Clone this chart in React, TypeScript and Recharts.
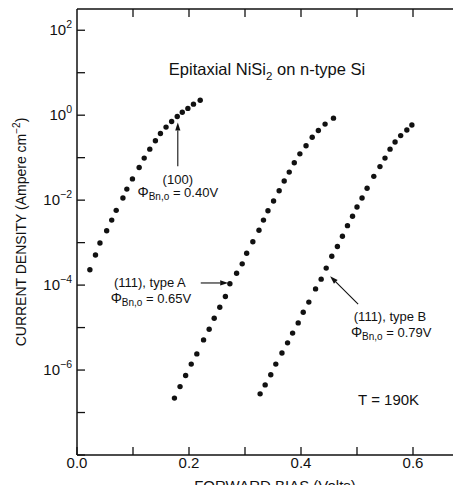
import React from "react";
import {
  ScatterChart,
  Scatter,
  XAxis,
  YAxis,
  ReferenceDot,
  ReferenceLine,
} from "recharts";

const FONT = '"Liberation Sans", Arial, Helvetica, sans-serif';
const INK = "#111";

// forward bias (V) and log10 of current density (A/cm^2)
const s100Bias = [0.023, 0.033, 0.041, 0.053, 0.062, 0.07, 0.082, 0.089, 0.099, 0.111, 0.12, 0.13, 0.14, 0.149, 0.159, 0.169, 0.179, 0.188, 0.198, 0.208, 0.22];
const s100Log = [-3.64, -3.29, -3.01, -2.72, -2.47, -2.24, -1.95, -1.74, -1.5, -1.23, -1.01, -0.8, -0.6, -0.43, -0.28, -0.15, -0.03, 0.07, 0.16, 0.26, 0.35];

const typeABias = [0.174, 0.184, 0.194, 0.204, 0.214, 0.226, 0.236, 0.245, 0.255, 0.265, 0.273, 0.285, 0.295, 0.303, 0.314, 0.325, 0.333, 0.341, 0.351, 0.361, 0.37, 0.379, 0.388, 0.398, 0.409, 0.42, 0.431, 0.443, 0.458];
const typeALog = [-6.66, -6.39, -6.13, -5.86, -5.62, -5.29, -5.04, -4.78, -4.52, -4.27, -3.97, -3.72, -3.5, -3.25, -2.98, -2.71, -2.47, -2.25, -2.02, -1.78, -1.55, -1.34, -1.12, -0.91, -0.72, -0.52, -0.36, -0.21, -0.07];

const typeBBias = [0.327, 0.336, 0.346, 0.355, 0.366, 0.376, 0.385, 0.395, 0.404, 0.414, 0.426, 0.436, 0.445, 0.455, 0.465, 0.474, 0.483, 0.492, 0.5, 0.509, 0.518, 0.53, 0.541, 0.55, 0.559, 0.568, 0.578, 0.589, 0.598];
const typeBLog = [-6.56, -6.35, -6.11, -5.86, -5.6, -5.36, -5.13, -4.89, -4.64, -4.4, -4.09, -3.86, -3.6, -3.32, -3.09, -2.85, -2.6, -2.38, -2.16, -1.95, -1.72, -1.44, -1.21, -1.01, -0.8, -0.63, -0.48, -0.35, -0.23];

const xTicks = [0, 0.1, 0.2, 0.3, 0.4, 0.5, 0.6];
const xLabeled = [0, 0.2, 0.4, 0.6];
const yTicks = [1e-8, 1e-7, 1e-6, 1e-5, 1e-4, 1e-3, 1e-2, 1e-1, 1, 10, 100];
const yLabeled = [-6, -4, -2, 0, 2];
const X_DOMAIN = [0, 0.7];
const Y_DOMAIN = [1e-8, Math.pow(10, 2.5)];

// chart box; the plot runs past the right edge of the picture like the scan
const CHART_W = 480;
const CHART_H = 485;
const MARGIN = { top: 1, right: 19, left: 0, bottom: 0 };
const Y_AXIS_W = 69;
const X_AXIS_H = 38;
const PLOT_W = CHART_W - MARGIN.left - MARGIN.right - Y_AXIS_W;
const PLOT_H = CHART_H - MARGIN.top - MARGIN.bottom - X_AXIS_H;

const toPoints = (xs: number[], logs: number[]) =>
  xs.map((x, i) => ({ x, y: Math.pow(10, logs[i]) }));

const data100 = toPoints(s100Bias, s100Log);
const dataA = toPoints(typeABias, typeALog);
const dataB = toPoints(typeBBias, typeBLog);

const Dot = (p: any) => <circle cx={p.cx} cy={p.cy} r={2.7} fill={INK} />;

// bottom tick plus its mirror on the top frame
const BottomTick = (p: any) => {
  const v = p.payload.value;
  const show = xLabeled.some((t) => Math.abs(t - v) < 1e-6);
  const top = p.y - PLOT_H;
  return (
    <g>
      <line x1={p.x} y1={p.y} x2={p.x} y2={p.y - 8} stroke={INK} strokeWidth={1.3} />
      {v > 0 && <line x1={p.x} y1={top} x2={p.x} y2={top + 8} stroke={INK} strokeWidth={1.3} />}
      {show && (
        <text x={p.x} y={p.y + 13} textAnchor="middle" fontSize={15} fontFamily={FONT} fill={INK}>
          {v.toFixed(1)}
        </text>
      )}
    </g>
  );
};

// left tick plus its mirror on the right frame
const LeftTick = (p: any) => {
  const e = Math.round(Math.log10(p.payload.value));
  const right = p.x + PLOT_W;
  return (
    <g>
      <line x1={p.x} y1={p.y} x2={p.x + 8} y2={p.y} stroke={INK} strokeWidth={1.3} />
      <line x1={right} y1={p.y} x2={right - 8} y2={p.y} stroke={INK} strokeWidth={1.3} />
      {yLabeled.includes(e) && (
        <text x={p.x - 5} y={p.y + 5} textAnchor="end" fontSize={15} fontFamily={FONT} fill={INK}>
          <tspan>10</tspan>
          <tspan dy={-7} fontSize={10.5}>{e < 0 ? "\u2212" + -e : String(e)}</tspan>
        </text>
      )}
    </g>
  );
};

// x title, and the top side of the frame
const XTitle = (p: any) => {
  const vb = p.viewBox;
  const top = vb.y - PLOT_H;
  return (
    <g>
      <line x1={vb.x} y1={top} x2={vb.x + vb.width} y2={top} stroke={INK} strokeWidth={1.5} />
      <text x={vb.x + vb.width / 2 + 2} y={vb.y + 36} textAnchor="middle" fontSize={15} fontFamily={FONT} fill={INK}>
        FORWARD BIAS (Volts)
      </text>
    </g>
  );
};

// y title, and the right side of the frame
const YTitle = (p: any) => {
  const vb = p.viewBox;
  const x = vb.x + 18;
  const y = vb.y + vb.height / 2;
  const right = vb.x + vb.width + PLOT_W;
  return (
    <g>
      <line x1={right} y1={vb.y} x2={right} y2={vb.y + vb.height} stroke={INK} strokeWidth={1.5} />
      <text x={x} y={y} transform={`rotate(-90 ${x} ${y})`} textAnchor="middle" fontSize={14} fontFamily={FONT} fill={INK}>
        <tspan>CURRENT DENSITY (Ampere cm</tspan>
        <tspan dy={-6} fontSize={10}>{"\u22122"}</tspan>
        <tspan dy={6}>)</tspan>
      </text>
    </g>
  );
};

const textAt = (content: React.ReactNode, anchor: string, size: number) => (p: any) => (
  <text x={p.cx} y={p.cy} textAnchor={anchor} fontSize={size} fontFamily={FONT} fill={INK}>
    {content}
  </text>
);

const phi = (v: string) => (
  <>
    <tspan fontSize={14}>Φ</tspan>
    <tspan dy={3} fontSize={10}>Bn,o</tspan>
    <tspan dy={-3}>{` = ${v}`}</tspan>
  </>
);

const Arrow = (p: any) => {
  const { x1, y1, x2, y2 } = p;
  const dx = x2 - x1;
  const dy = y2 - y1;
  const len = Math.sqrt(dx * dx + dy * dy) || 1;
  const ux = dx / len;
  const uy = dy / len;
  const hl = 8;
  const hw = 2.6;
  const bx = x2 - ux * hl;
  const by = y2 - uy * hl;
  const pts = `${x2},${y2} ${bx - uy * hw},${by + ux * hw} ${bx + uy * hw},${by - ux * hw}`;
  return (
    <g>
      <line x1={x1} y1={y1} x2={bx} y2={by} stroke={INK} strokeWidth={1.1} />
      <polygon points={pts} fill={INK} />
    </g>
  );
};

const L = (v: number) => Math.pow(10, v);

export default function App() {
  return (
    <div style={{ width: 453, height: CHART_H, overflow: "hidden", marginBottom: -8 }}>
      <ScatterChart width={CHART_W} height={CHART_H} margin={MARGIN}>
        <XAxis
          type="number"
          dataKey="x"
          domain={X_DOMAIN}
          allowDataOverflow
          ticks={xTicks}
          interval={0}
          tickSize={0}
          tickMargin={0}
          tickLine={false}
          tick={BottomTick}
          axisLine={{ stroke: INK, strokeWidth: 1.5 }}
          height={X_AXIS_H}
          label={XTitle}
        />
        <YAxis
          type="number"
          dataKey="y"
          scale="log"
          domain={Y_DOMAIN}
          allowDataOverflow
          ticks={yTicks}
          interval={0}
          tickSize={0}
          tickMargin={0}
          tickLine={false}
          tick={LeftTick}
          axisLine={{ stroke: INK, strokeWidth: 1.5 }}
          width={Y_AXIS_W}
          label={YTitle}
        />

        <Scatter data={data100} shape={Dot} isAnimationActive={false} />
        <Scatter data={dataA} shape={Dot} isAnimationActive={false} />
        <Scatter data={dataB} shape={Dot} isAnimationActive={false} />

        <ReferenceDot
          x={0.164}
          y={L(0.94)}
          shape={textAt(
            <>
              <tspan>Epitaxial NiSi</tspan>
              <tspan dy={5} fontSize={11.5}>2</tspan>
              <tspan dy={-5}> on n-type Si</tspan>
            </>,
            "start",
            16.5
          )}
        />
        <ReferenceDot x={0.18} y={L(-1.62)} shape={textAt("(100)", "middle", 13)} />
        <ReferenceDot x={0.18} y={L(-1.93)} shape={textAt(phi("0.40V"), "middle", 13)} />
        <ReferenceLine segment={[{ x: 0.18, y: L(-1.2) }, { x: 0.18, y: L(-0.17) }]} shape={Arrow} />

        <ReferenceDot x={0.13} y={L(-4.05)} shape={textAt("(111), type A", "middle", 13)} />
        <ReferenceDot x={0.132} y={L(-4.42)} shape={textAt(phi("0.65V"), "middle", 13)} />
        <ReferenceLine segment={[{ x: 0.221, y: L(-3.95) }, { x: 0.27, y: L(-3.95) }]} shape={Arrow} />

        <ReferenceDot x={0.559} y={L(-4.85)} shape={textAt("(111), type B", "middle", 13)} />
        <ReferenceDot x={0.561} y={L(-5.22)} shape={textAt(phi("0.79V"), "middle", 13)} />
        <ReferenceLine segment={[{ x: 0.502, y: L(-4.45) }, { x: 0.452, y: L(-3.79) }]} shape={Arrow} />

        <ReferenceDot x={0.502} y={L(-6.82)} shape={textAt("T = 190K", "start", 15)} />
      </ScatterChart>
    </div>
  );
}
